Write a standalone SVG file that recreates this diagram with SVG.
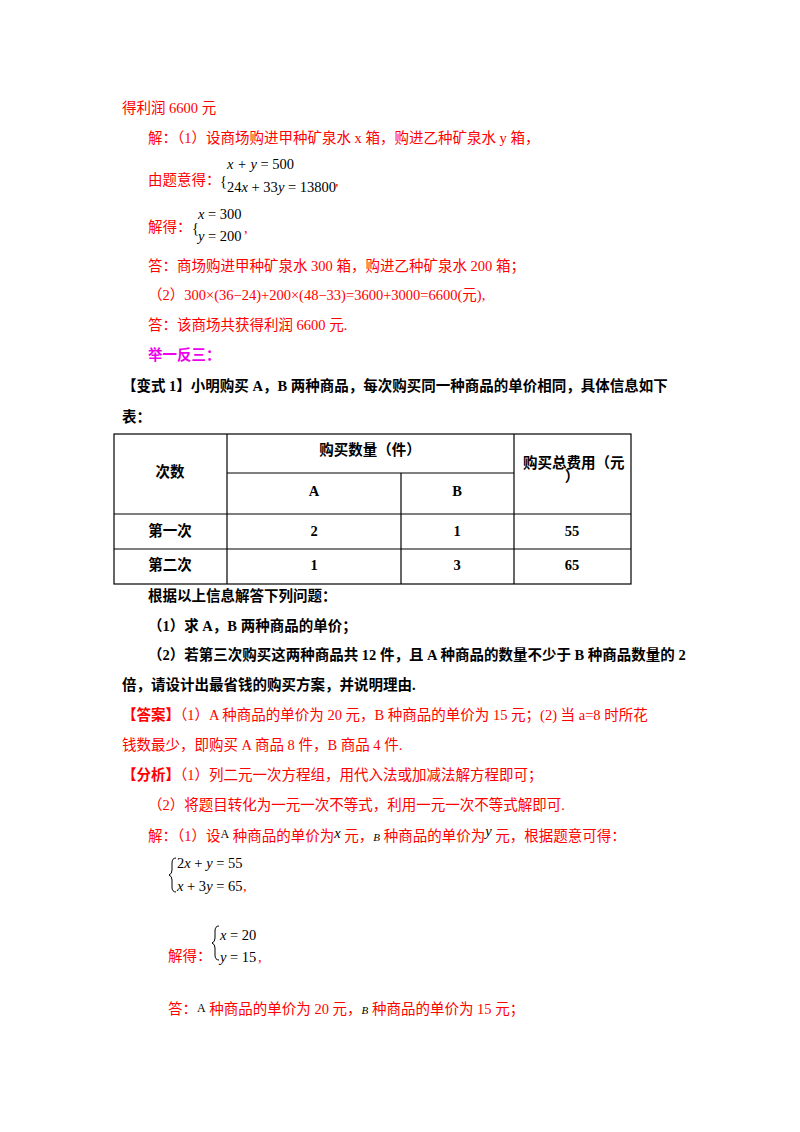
<svg xmlns="http://www.w3.org/2000/svg" width="800" height="1132" viewBox="0 0 800 1132">
<style>
text{font-family:"Liberation Serif","Noto Sans CJK SC",serif;font-size:14.5px}
.r{fill:#f00}
.b{fill:#000;font-weight:bold}
.m{font-family:"Liberation Serif",serif;font-style:italic;fill:#000}
.mn{font-family:"Liberation Serif",serif;fill:#000}
.c{text-anchor:middle}
line{stroke:#000;stroke-width:1.2}
</style>
<rect width="800" height="1132" fill="#fff"/>
<text class="r" x="122" y="113">得利润 6600 元</text>
<text class="r" x="148" y="143">解：（1）设商场购进甲种矿泉水 x 箱，购进乙种矿泉水 y 箱，</text>
<text class="r" x="148" y="185">由题意得：</text>
<text class="mn" x="220" y="186" font-size="18">{</text>
<text class="m" x="227" y="169">x + y <tspan font-style="normal">= 500</tspan></text>
<text class="mn" x="227" y="192">24<tspan font-style="italic">x</tspan> + 33<tspan font-style="italic">y</tspan> = 13800</text>
<text class="r" x="335" y="186">,</text>
<text class="r" x="148" y="232">解得：</text>
<text class="mn" x="192" y="233" font-size="18">{</text>
<text class="m" x="198" y="219">x <tspan font-style="normal">= 300</tspan></text>
<text class="m" x="198" y="241">y <tspan font-style="normal">= 200</tspan></text>
<text class="r" x="244" y="233">,</text>
<text class="r" x="148" y="271">答：商场购进甲种矿泉水 300 箱，购进乙种矿泉水 200 箱；</text>
<text class="r" x="148" y="300">（2）300×(36−24)+200×(48−33)=3600+3000=6600(元),</text>
<text class="r" x="148" y="330">答：该商场共获得利润 6600 元.</text>
<text x="148" y="360" fill="#e0e" font-weight="bold">举一反三：</text>
<text class="b" x="122" y="391">【变式 1】小明购买 A，B 两种商品，每次购买同一种商品的单价相同，具体信息如下</text>
<text class="b" x="122" y="422">表：</text>
<g id="table" fill="none">
<rect x="114" y="434" width="517" height="150" fill="none" stroke="#000" stroke-width="1.2"/>
<line x1="227" y1="434" x2="227" y2="584"/>
<line x1="514" y1="434" x2="514" y2="584"/>
<line x1="401" y1="473" x2="401" y2="584"/>
<line x1="227" y1="473" x2="514" y2="473"/>
<line x1="114" y1="514" x2="631" y2="514"/>
<line x1="114" y1="549" x2="631" y2="549"/>
</g>
<g class="b" font-size="13.5">
<text class="b c" x="170" y="477">次数</text>
<text class="b c" x="370" y="455">购买数量（件）</text>
<text class="b c" x="314" y="496">A</text>
<text class="b c" x="457" y="496">B</text>
<text class="b" x="523" y="468">购买总费用（元</text>
<text class="b c" x="572" y="482">）</text>
<text class="b c" x="170" y="536">第一次</text>
<text class="b c" x="314" y="536">2</text>
<text class="b c" x="457" y="536">1</text>
<text class="b c" x="572" y="536">55</text>
<text class="b c" x="170" y="570">第二次</text>
<text class="b c" x="314" y="570">1</text>
<text class="b c" x="457" y="570">3</text>
<text class="b c" x="572" y="570">65</text>
</g>
<text class="b" x="148" y="601">根据以上信息解答下列问题：</text>
<text class="b" x="148" y="631">（1）求 A，B 两种商品的单价；</text>
<text class="b" x="148" y="660">（2）若第三次购买这两种商品共 12 件，且 A 种商品的数量不少于 B 种商品数量的 2</text>
<text class="b" x="122" y="690">倍，请设计出最省钱的购买方案，并说明理由.</text>
<text class="r" x="122" y="720"><tspan font-weight="bold">【答案】</tspan>（1）A 种商品的单价为 20 元，B 种商品的单价为 15 元；(2) 当 a=8 时所花</text>
<text class="r" x="122" y="750">钱数最少，即购买 A 商品 8 件，B 商品 4 件.</text>
<text class="r" x="122" y="780"><tspan font-weight="bold">【分析】</tspan>（1）列二元一次方程组，用代入法或加减法解方程即可；</text>
<text class="r" x="148" y="810">（2）将题目转化为一元一次不等式，利用一元一次不等式解即可.</text>
<text class="r" x="148" y="841">解：（1）设<tspan class="mn" font-size="12" dy="-3">A</tspan><tspan dy="3"> 种商品的单价为</tspan><tspan class="m" dy="-3">x</tspan><tspan dy="3"> 元，</tspan><tspan class="m" font-size="11">B</tspan> 种商品的单价为<tspan class="m" dy="-5">y</tspan><tspan dy="5"> 元，根据题意可得：</tspan></text>
<path d="M 176 858 q -4 0 -4 5 v 7 q 0 4 -3 5 q 3 1 3 5 v 7 q 0 5 4 5" fill="none" stroke="#000" stroke-width="1"/>
<text class="mn" x="177" y="868">2<tspan font-style="italic">x</tspan> + <tspan font-style="italic">y</tspan> = 55</text>
<text class="mn" x="177" y="891"><tspan font-style="italic">x</tspan> + 3<tspan font-style="italic">y</tspan> = 65</text>
<text class="r" x="243" y="891">,</text>
<text class="r" x="168" y="961">解得：</text>
<path d="M 219 926 q -4 0 -4 5 v 7 q 0 4 -3 5 q 3 1 3 5 v 7 q 0 5 4 5" fill="none" stroke="#000" stroke-width="1"/>
<text class="m" x="220" y="940">x <tspan font-style="normal">= 20</tspan></text>
<text class="m" x="220" y="962">y <tspan font-style="normal">= 15</tspan></text>
<text class="r" x="258" y="962">,</text>
<text class="r" x="168" y="1014">答：<tspan class="mn" font-size="12" dy="-2">A</tspan><tspan dy="2"> 种商品的单价为 20 元，</tspan><tspan class="m" font-size="11">B</tspan> 种商品的单价为 15 元；</text>
</svg>
